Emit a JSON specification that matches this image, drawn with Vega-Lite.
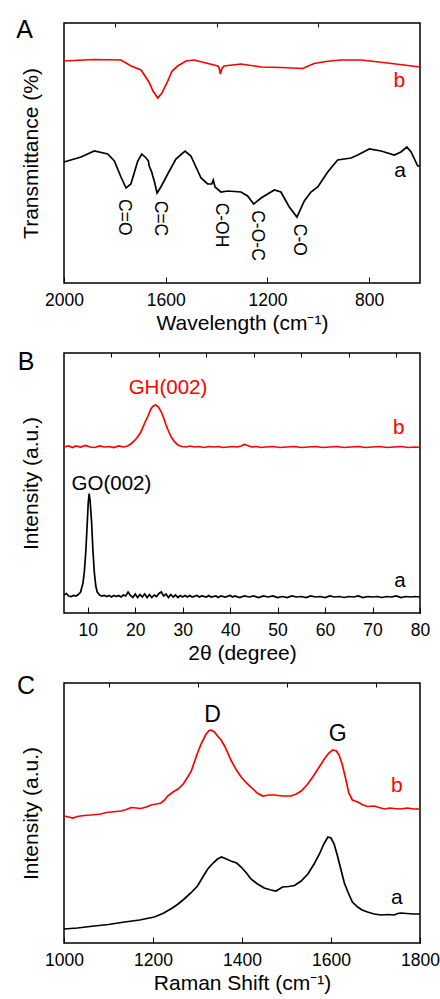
{
"$schema": "https://vega.github.io/schema/vega-lite/v6.json",
"padding": {"left": 15, "top": 16, "right": 0, "bottom": 0},
"bounds": "flush",
"spacing": 70,
"datasets": {
"ftir": [
{"x":2000,"y":121,"s":"a"},{"x":1933,"y":126,"s":"a"},{"x":1881,"y":132,"s":"a"},{"x":1828,"y":129,"s":"a"},{"x":1802,"y":122,"s":"a"},{"x":1776,"y":106,"s":"a"},{"x":1756,"y":95,"s":"a"},{"x":1737,"y":99,"s":"a"},{"x":1710,"y":122,"s":"a"},{"x":1694,"y":129,"s":"a"},{"x":1677,"y":125,"s":"a"},{"x":1668,"y":122,"s":"a"},{"x":1665,"y":117,"s":"a"},{"x":1655,"y":111,"s":"a"},{"x":1651,"y":107,"s":"a"},{"x":1645,"y":102,"s":"a"},{"x":1634,"y":90,"s":"a"},{"x":1619,"y":96,"s":"a"},{"x":1592,"y":109,"s":"a"},{"x":1560,"y":124,"s":"a"},{"x":1524,"y":132,"s":"a"},{"x":1501,"y":127,"s":"a"},{"x":1461,"y":105,"s":"a"},{"x":1435,"y":99,"s":"a"},{"x":1419,"y":99,"s":"a"},{"x":1413,"y":103,"s":"a"},{"x":1406,"y":96,"s":"a"},{"x":1383,"y":91,"s":"a"},{"x":1356,"y":92,"s":"a"},{"x":1304,"y":91,"s":"a"},{"x":1278,"y":87,"s":"a"},{"x":1254,"y":79,"s":"a"},{"x":1225,"y":85,"s":"a"},{"x":1173,"y":93,"s":"a"},{"x":1147,"y":91,"s":"a"},{"x":1114,"y":76,"s":"a"},{"x":1084,"y":66,"s":"a"},{"x":1055,"y":82,"s":"a"},{"x":1029,"y":91,"s":"a"},{"x":1002,"y":96,"s":"a"},{"x":963,"y":111,"s":"a"},{"x":924,"y":123,"s":"a"},{"x":871,"y":125,"s":"a"},{"x":845,"y":128,"s":"a"},{"x":799,"y":134,"s":"a"},{"x":753,"y":132,"s":"a"},{"x":701,"y":128,"s":"a"},{"x":675,"y":131,"s":"a"},{"x":652,"y":136,"s":"a"},{"x":635,"y":131,"s":"a"},{"x":609,"y":117,"s":"a"},{"x":600,"y":117,"s":"a"},
{"x":2000,"y":222,"s":"b"},{"x":1882,"y":223.5,"s":"b"},{"x":1776,"y":223,"s":"b"},{"x":1736,"y":217,"s":"b"},{"x":1697,"y":213,"s":"b"},{"x":1666,"y":201,"s":"b"},{"x":1650,"y":192,"s":"b"},{"x":1631,"y":185,"s":"b"},{"x":1615,"y":190,"s":"b"},{"x":1592,"y":202,"s":"b"},{"x":1575,"y":212,"s":"b"},{"x":1553,"y":217,"s":"b"},{"x":1520,"y":222,"s":"b"},{"x":1488,"y":223,"s":"b"},{"x":1442,"y":220,"s":"b"},{"x":1395,"y":217,"s":"b"},{"x":1390,"y":215,"s":"b"},{"x":1385,"y":209,"s":"b"},{"x":1380,"y":214,"s":"b"},{"x":1371,"y":217,"s":"b"},{"x":1304,"y":219,"s":"b"},{"x":1225,"y":216,"s":"b"},{"x":1147,"y":215.5,"s":"b"},{"x":1061,"y":214.5,"s":"b"},{"x":1017,"y":219.5,"s":"b"},{"x":970,"y":221.5,"s":"b"},{"x":911,"y":223,"s":"b"},{"x":832,"y":223,"s":"b"},{"x":727,"y":220,"s":"b"},{"x":600,"y":216,"s":"b"}
],
"ftirSeries": [{"x":681,"y":201.8,"t":"b","s":"b"},{"x":678,"y":112.3,"t":"a","s":"a"}],
"ftirPeaks": [{"x":1765,"y":65.7,"t":"C=O"},{"x":1624,"y":64.5,"t":"C=C"},{"x":1384,"y":58,"t":"C-OH"},{"x":1241,"y":47.5,"t":"C-O-C"},{"x":1077,"y":43.2,"t":"C-O"}],
"ftirPanel": [{"x":2155,"y":253.5,"t":"A"}],
"xrd": [
{"x":5,"y":18,"s":"a"},{"x":5.5,"y":19.5,"s":"a"},{"x":6,"y":17,"s":"a"},{"x":6.5,"y":16.5,"s":"a"},{"x":7,"y":17.5,"s":"a"},{"x":7.5,"y":17,"s":"a"},{"x":8,"y":18.5,"s":"a"},{"x":8.5,"y":21,"s":"a"},{"x":9,"y":30,"s":"a"},{"x":9.3,"y":42,"s":"a"},{"x":9.6,"y":62,"s":"a"},{"x":9.9,"y":90,"s":"a"},{"x":10.1,"y":110,"s":"a"},{"x":10.3,"y":119.5,"s":"a"},{"x":10.5,"y":112,"s":"a"},{"x":10.8,"y":92,"s":"a"},{"x":11.1,"y":62,"s":"a"},{"x":11.4,"y":40,"s":"a"},{"x":11.7,"y":27,"s":"a"},{"x":12,"y":21,"s":"a"},{"x":12.5,"y":18,"s":"a"},{"x":13,"y":17,"s":"a"},{"x":13.5,"y":17.5,"s":"a"},{"x":14,"y":16.5,"s":"a"},{"x":14.5,"y":17.5,"s":"a"},{"x":15,"y":16,"s":"a"},{"x":15.5,"y":17.5,"s":"a"},{"x":16,"y":16.5,"s":"a"},{"x":16.5,"y":17.5,"s":"a"},{"x":17,"y":16,"s":"a"},{"x":17.5,"y":18,"s":"a"},{"x":18,"y":17,"s":"a"},{"x":18.5,"y":21,"s":"a"},{"x":19,"y":17.5,"s":"a"},{"x":19.5,"y":15.5,"s":"a"},{"x":20,"y":19,"s":"a"},{"x":20.5,"y":15.5,"s":"a"},{"x":21,"y":18.5,"s":"a"},{"x":21.5,"y":16,"s":"a"},{"x":22,"y":19,"s":"a"},{"x":22.5,"y":15.5,"s":"a"},{"x":23,"y":18.5,"s":"a"},{"x":23.5,"y":15.5,"s":"a"},{"x":24,"y":18,"s":"a"},{"x":24.5,"y":16.5,"s":"a"},{"x":25,"y":19.5,"s":"a"},{"x":25.5,"y":21,"s":"a"},{"x":26,"y":17,"s":"a"},{"x":26.5,"y":19,"s":"a"},{"x":27,"y":15.5,"s":"a"},{"x":27.5,"y":18.5,"s":"a"},{"x":28,"y":16,"s":"a"},{"x":28.5,"y":18,"s":"a"},{"x":29,"y":15.5,"s":"a"},{"x":29.5,"y":17.5,"s":"a"},{"x":30,"y":16,"s":"a"},{"x":30.5,"y":17.5,"s":"a"},{"x":31,"y":16,"s":"a"},{"x":31.5,"y":17.5,"s":"a"},{"x":32,"y":16,"s":"a"},{"x":33,"y":17.5,"s":"a"},{"x":33.5,"y":16,"s":"a"},{"x":34,"y":17,"s":"a"},{"x":35,"y":16,"s":"a"},{"x":35.5,"y":17.5,"s":"a"},{"x":36,"y":16,"s":"a"},{"x":37,"y":17,"s":"a"},{"x":37.5,"y":15.5,"s":"a"},{"x":38,"y":17,"s":"a"},{"x":39,"y":16,"s":"a"},{"x":40,"y":17.5,"s":"a"},{"x":40.5,"y":16,"s":"a"},{"x":41,"y":17,"s":"a"},{"x":42,"y":15.5,"s":"a"},{"x":43,"y":17,"s":"a"},{"x":44,"y":16,"s":"a"},{"x":45,"y":17,"s":"a"},{"x":46,"y":15.5,"s":"a"},{"x":47,"y":17,"s":"a"},{"x":48,"y":16,"s":"a"},{"x":49,"y":17,"s":"a"},{"x":50,"y":15.5,"s":"a"},{"x":51,"y":16.5,"s":"a"},{"x":52,"y":15.5,"s":"a"},{"x":53,"y":17,"s":"a"},{"x":54,"y":16,"s":"a"},{"x":55,"y":16.5,"s":"a"},{"x":56,"y":15.5,"s":"a"},{"x":57,"y":17,"s":"a"},{"x":58,"y":16,"s":"a"},{"x":59,"y":16.5,"s":"a"},{"x":60,"y":15.5,"s":"a"},{"x":61,"y":17,"s":"a"},{"x":62,"y":16,"s":"a"},{"x":63,"y":16.5,"s":"a"},{"x":64,"y":15.5,"s":"a"},{"x":65,"y":16.5,"s":"a"},{"x":66,"y":16,"s":"a"},{"x":67,"y":17,"s":"a"},{"x":68,"y":15.5,"s":"a"},{"x":69,"y":16.5,"s":"a"},{"x":70,"y":16,"s":"a"},{"x":71,"y":16.5,"s":"a"},{"x":72,"y":15.5,"s":"a"},{"x":73,"y":16.5,"s":"a"},{"x":74,"y":16,"s":"a"},{"x":75,"y":17,"s":"a"},{"x":76,"y":15.5,"s":"a"},{"x":77,"y":16.5,"s":"a"},{"x":78,"y":16,"s":"a"},{"x":79,"y":16.5,"s":"a"},{"x":80,"y":16,"s":"a"},
{"x":5,"y":166,"s":"b"},{"x":6,"y":167,"s":"b"},{"x":6.8,"y":165.5,"s":"b"},{"x":7.5,"y":167,"s":"b"},{"x":8.5,"y":166,"s":"b"},{"x":9.5,"y":167.5,"s":"b"},{"x":10.5,"y":166,"s":"b"},{"x":11.5,"y":165.5,"s":"b"},{"x":12.5,"y":167,"s":"b"},{"x":13.5,"y":166,"s":"b"},{"x":14.5,"y":166.5,"s":"b"},{"x":15.5,"y":165.5,"s":"b"},{"x":16.5,"y":167,"s":"b"},{"x":17.5,"y":166,"s":"b"},{"x":18.4,"y":167,"s":"b"},{"x":19.2,"y":169.5,"s":"b"},{"x":19.8,"y":172,"s":"b"},{"x":20.5,"y":176,"s":"b"},{"x":21.2,"y":181,"s":"b"},{"x":22,"y":190,"s":"b"},{"x":22.7,"y":197,"s":"b"},{"x":23.3,"y":204,"s":"b"},{"x":23.8,"y":207,"s":"b"},{"x":24.3,"y":208,"s":"b"},{"x":24.9,"y":206,"s":"b"},{"x":25.5,"y":201,"s":"b"},{"x":26,"y":195,"s":"b"},{"x":26.5,"y":188,"s":"b"},{"x":27,"y":182,"s":"b"},{"x":27.6,"y":176,"s":"b"},{"x":28.3,"y":171,"s":"b"},{"x":29,"y":168,"s":"b"},{"x":29.8,"y":166.5,"s":"b"},{"x":30.7,"y":166,"s":"b"},{"x":31.5,"y":167,"s":"b"},{"x":32.5,"y":166,"s":"b"},{"x":33.5,"y":166.5,"s":"b"},{"x":34.5,"y":165.5,"s":"b"},{"x":35.5,"y":166.5,"s":"b"},{"x":36.5,"y":166,"s":"b"},{"x":37.5,"y":166.5,"s":"b"},{"x":38.5,"y":165.5,"s":"b"},{"x":39.5,"y":166,"s":"b"},{"x":40.5,"y":166.5,"s":"b"},{"x":41.5,"y":166,"s":"b"},{"x":42.3,"y":167,"s":"b"},{"x":43,"y":168.5,"s":"b"},{"x":43.7,"y":167.5,"s":"b"},{"x":44.5,"y":166,"s":"b"},{"x":45.5,"y":166.5,"s":"b"},{"x":46.5,"y":165.5,"s":"b"},{"x":47.5,"y":166,"s":"b"},{"x":49,"y":166.5,"s":"b"},{"x":50.5,"y":165.5,"s":"b"},{"x":52,"y":166,"s":"b"},{"x":53.5,"y":166.5,"s":"b"},{"x":55,"y":165.5,"s":"b"},{"x":56.5,"y":166,"s":"b"},{"x":58,"y":166.5,"s":"b"},{"x":59.5,"y":165.5,"s":"b"},{"x":61,"y":166,"s":"b"},{"x":62.5,"y":166.5,"s":"b"},{"x":64,"y":165.5,"s":"b"},{"x":65.5,"y":166,"s":"b"},{"x":67,"y":166.5,"s":"b"},{"x":68.5,"y":165.5,"s":"b"},{"x":70,"y":166,"s":"b"},{"x":71.5,"y":166.5,"s":"b"},{"x":73,"y":165.5,"s":"b"},{"x":74.5,"y":166,"s":"b"},{"x":76,"y":166.5,"s":"b"},{"x":77.5,"y":165.5,"s":"b"},{"x":79,"y":166,"s":"b"},{"x":80,"y":165.5,"s":"b"}
],
"xrdLabels": [{"x":75.5,"y":184.6,"t":"b","s":"b"},{"x":75.8,"y":32.3,"t":"a","s":"a"},{"x":26.9,"y":225.3,"t":"GH(002)","s":"b"},{"x":15.0,"y":128.6,"t":"GO(002)","s":"a"}],
"xrdPanel": [{"x":-3.0,"y":251,"t":"B"}],
"raman": [
{"x":1000,"y":14,"s":"a"},{"x":1030,"y":15,"s":"a"},{"x":1068,"y":17,"s":"a"},{"x":1100,"y":18.5,"s":"a"},{"x":1136,"y":21,"s":"a"},{"x":1170,"y":23,"s":"a"},{"x":1203,"y":26,"s":"a"},{"x":1222,"y":29.5,"s":"a"},{"x":1240,"y":34,"s":"a"},{"x":1255,"y":38.5,"s":"a"},{"x":1270,"y":44,"s":"a"},{"x":1285,"y":50,"s":"a"},{"x":1300,"y":57,"s":"a"},{"x":1312,"y":66,"s":"a"},{"x":1323,"y":74,"s":"a"},{"x":1335,"y":80,"s":"a"},{"x":1345,"y":84,"s":"a"},{"x":1354,"y":86,"s":"a"},{"x":1365,"y":84,"s":"a"},{"x":1375,"y":82,"s":"a"},{"x":1388,"y":80,"s":"a"},{"x":1398,"y":76,"s":"a"},{"x":1410,"y":70,"s":"a"},{"x":1420,"y":64,"s":"a"},{"x":1435,"y":59,"s":"a"},{"x":1450,"y":55,"s":"a"},{"x":1465,"y":53,"s":"a"},{"x":1476,"y":52,"s":"a"},{"x":1484,"y":54,"s":"a"},{"x":1491,"y":56,"s":"a"},{"x":1505,"y":56.5,"s":"a"},{"x":1518,"y":57.5,"s":"a"},{"x":1533,"y":62,"s":"a"},{"x":1548,"y":69,"s":"a"},{"x":1562,"y":79,"s":"a"},{"x":1574,"y":89,"s":"a"},{"x":1584,"y":99,"s":"a"},{"x":1593,"y":106,"s":"a"},{"x":1600,"y":105,"s":"a"},{"x":1607,"y":99,"s":"a"},{"x":1614,"y":88,"s":"a"},{"x":1622,"y":74,"s":"a"},{"x":1630,"y":60,"s":"a"},{"x":1638,"y":51,"s":"a"},{"x":1648,"y":41,"s":"a"},{"x":1660,"y":36,"s":"a"},{"x":1670,"y":33,"s":"a"},{"x":1682,"y":31,"s":"a"},{"x":1697,"y":29,"s":"a"},{"x":1712,"y":28,"s":"a"},{"x":1727,"y":28.5,"s":"a"},{"x":1742,"y":28,"s":"a"},{"x":1750,"y":29.5,"s":"a"},{"x":1757,"y":30,"s":"a"},{"x":1770,"y":29.5,"s":"a"},{"x":1785,"y":29,"s":"a"},{"x":1800,"y":29,"s":"a"},
{"x":1000,"y":127,"s":"b"},{"x":1010,"y":126,"s":"b"},{"x":1020,"y":125,"s":"b"},{"x":1030,"y":126.5,"s":"b"},{"x":1045,"y":127.5,"s":"b"},{"x":1060,"y":128,"s":"b"},{"x":1083,"y":129,"s":"b"},{"x":1095,"y":130.5,"s":"b"},{"x":1106,"y":131,"s":"b"},{"x":1128,"y":132,"s":"b"},{"x":1140,"y":133.5,"s":"b"},{"x":1151,"y":135.5,"s":"b"},{"x":1162,"y":135,"s":"b"},{"x":1173,"y":134.5,"s":"b"},{"x":1185,"y":136,"s":"b"},{"x":1196,"y":138,"s":"b"},{"x":1208,"y":139,"s":"b"},{"x":1218,"y":140,"s":"b"},{"x":1226,"y":143,"s":"b"},{"x":1233,"y":147,"s":"b"},{"x":1245,"y":151,"s":"b"},{"x":1256,"y":154,"s":"b"},{"x":1268,"y":159,"s":"b"},{"x":1278,"y":166,"s":"b"},{"x":1286,"y":172,"s":"b"},{"x":1293,"y":181,"s":"b"},{"x":1300,"y":190,"s":"b"},{"x":1308,"y":199,"s":"b"},{"x":1318,"y":208,"s":"b"},{"x":1325,"y":212,"s":"b"},{"x":1330,"y":213,"s":"b"},{"x":1338,"y":211,"s":"b"},{"x":1345,"y":207,"s":"b"},{"x":1353,"y":203,"s":"b"},{"x":1362,"y":196,"s":"b"},{"x":1375,"y":183,"s":"b"},{"x":1386,"y":174,"s":"b"},{"x":1398,"y":166,"s":"b"},{"x":1410,"y":160,"s":"b"},{"x":1420,"y":156,"s":"b"},{"x":1434,"y":150,"s":"b"},{"x":1447,"y":147,"s":"b"},{"x":1460,"y":148,"s":"b"},{"x":1473,"y":148,"s":"b"},{"x":1490,"y":147,"s":"b"},{"x":1510,"y":147,"s":"b"},{"x":1522,"y":149,"s":"b"},{"x":1533,"y":152,"s":"b"},{"x":1546,"y":158,"s":"b"},{"x":1559,"y":166,"s":"b"},{"x":1572,"y":175,"s":"b"},{"x":1585,"y":184,"s":"b"},{"x":1595,"y":190,"s":"b"},{"x":1604,"y":193,"s":"b"},{"x":1612,"y":192,"s":"b"},{"x":1618,"y":188,"s":"b"},{"x":1625,"y":179,"s":"b"},{"x":1632,"y":166,"s":"b"},{"x":1640,"y":150,"s":"b"},{"x":1648,"y":143,"s":"b"},{"x":1660,"y":141,"s":"b"},{"x":1672,"y":138,"s":"b"},{"x":1682,"y":136.5,"s":"b"},{"x":1697,"y":137,"s":"b"},{"x":1708,"y":135.5,"s":"b"},{"x":1720,"y":134,"s":"b"},{"x":1732,"y":135,"s":"b"},{"x":1742,"y":134.5,"s":"b"},{"x":1755,"y":134,"s":"b"},{"x":1772,"y":135,"s":"b"},{"x":1785,"y":134,"s":"b"},{"x":1800,"y":134,"s":"b"}
],
"ramanSeries": [{"x":1748,"y":157.1,"t":"b","s":"b"},{"x":1748,"y":44.8,"t":"a","s":"a"}],
"ramanPeaks": [{"x":1334,"y":227.7,"t":"D"},{"x":1615,"y":209.2,"t":"G"}],
"ramanPanel": [{"x":914.6,"y":257.5,"t":"C"}]
},
"vconcat": [
{
"width": 356, "height": 260,
"layer": [
{"data": {"name": "ftir"}, "mark": {"type": "line", "strokeWidth": 1.7},
 "encoding": {
  "x": {"field": "x", "type": "quantitative", "scale": {"domain": [600, 2000], "reverse": true, "nice": false, "zero": false}, "axis": {"values": [2000, 1600, 1200, 800], "format": "d", "tickSize": -6, "labelPadding": 14, "title": "Wavelength (cm⁻¹)", "titlePadding": 4}},
  "y": {"field": "y", "type": "quantitative", "scale": {"domain": [0, 260], "nice": false, "zero": false}, "axis": {"title": "Transmittance (%)", "labels": false, "ticks": false, "titlePadding": 23}},
  "color": {"field": "s", "type": "nominal", "scale": {"domain": ["a", "b"], "range": ["#000000", "#ff0000"]}, "legend": null}
 }},
{"data": {"name": "ftirSeries"}, "mark": {"type": "text", "fontSize": 21},
 "encoding": {
  "x": {"field": "x", "type": "quantitative", "axis": {"values": [1800, 1400, 1000], "tickSize": -4, "labels": false, "title": null}},
  "y": {"field": "y", "type": "quantitative"},
  "text": {"field": "t"},
  "color": {"field": "s", "type": "nominal", "legend": null}
 }},
{"data": {"name": "ftirPeaks"}, "mark": {"type": "text", "fontSize": 17.5, "angle": 90, "color": "#000000"},
 "encoding": {
  "x": {"field": "x", "type": "quantitative", "axis": null},
  "y": {"field": "y", "type": "quantitative"},
  "text": {"field": "t"}
 }},
{"data": {"name": "ftirPanel"}, "mark": {"type": "text", "fontSize": 25, "color": "#000000"},
 "encoding": {
  "x": {"field": "x", "type": "quantitative", "axis": null},
  "y": {"field": "y", "type": "quantitative"},
  "text": {"field": "t"}
 }}
],
"resolve": {"axis": {"x": "independent"}}
},
{
"width": 356, "height": 260,
"layer": [
{"data": {"name": "xrd"}, "mark": {"type": "line", "strokeWidth": 1.7},
 "encoding": {
  "x": {"field": "x", "type": "quantitative", "scale": {"domain": [5, 80], "nice": false, "zero": false}, "axis": {"values": [10, 20, 30, 40, 50, 60, 70, 80], "format": "d", "tickSize": -6, "labelPadding": 14, "title": "2θ (degree)", "titlePadding": 4}},
  "y": {"field": "y", "type": "quantitative", "scale": {"domain": [0, 260], "nice": false, "zero": false}, "axis": {"title": "Intensity (a.u.)", "labels": false, "ticks": false, "titlePadding": 23}},
  "color": {"field": "s", "type": "nominal", "scale": {"domain": ["a", "b"], "range": ["#000000", "#ff0000"]}, "legend": null}
 }},
{"data": {"name": "xrdLabels"}, "mark": {"type": "text", "fontSize": 20.5},
 "encoding": {
  "x": {"field": "x", "type": "quantitative", "axis": {"values": [15, 25, 35, 45, 55, 65, 75], "tickSize": -4, "labels": false, "title": null}},
  "y": {"field": "y", "type": "quantitative"},
  "text": {"field": "t"},
  "color": {"field": "s", "type": "nominal", "legend": null}
 }},
{"data": {"name": "xrdPanel"}, "mark": {"type": "text", "fontSize": 25, "color": "#000000"},
 "encoding": {
  "x": {"field": "x", "type": "quantitative", "axis": null},
  "y": {"field": "y", "type": "quantitative"},
  "text": {"field": "t"}
 }}
],
"resolve": {"axis": {"x": "independent"}}
},
{
"width": 356, "height": 260,
"layer": [
{"data": {"name": "raman"}, "mark": {"type": "line", "strokeWidth": 1.7},
 "encoding": {
  "x": {"field": "x", "type": "quantitative", "scale": {"domain": [1000, 1800], "nice": false, "zero": false}, "axis": {"values": [1000, 1200, 1400, 1600, 1800], "format": "d", "tickSize": -6, "labelPadding": 14, "title": "Raman Shift (cm⁻¹)", "titlePadding": 4}},
  "y": {"field": "y", "type": "quantitative", "scale": {"domain": [0, 260], "nice": false, "zero": false}, "axis": {"title": "Intensity (a.u.)", "labels": false, "ticks": false, "titlePadding": 23}},
  "color": {"field": "s", "type": "nominal", "scale": {"domain": ["a", "b"], "range": ["#000000", "#ff0000"]}, "legend": null}
 }},
{"data": {"name": "ramanSeries"}, "mark": {"type": "text", "fontSize": 21},
 "encoding": {
  "x": {"field": "x", "type": "quantitative", "axis": {"values": [1100, 1300, 1500, 1700], "tickSize": -4, "labels": false, "title": null}},
  "y": {"field": "y", "type": "quantitative"},
  "text": {"field": "t"},
  "color": {"field": "s", "type": "nominal", "legend": null}
 }},
{"data": {"name": "ramanPeaks"}, "mark": {"type": "text", "fontSize": 23, "color": "#000000"},
 "encoding": {
  "x": {"field": "x", "type": "quantitative", "axis": null},
  "y": {"field": "y", "type": "quantitative"},
  "text": {"field": "t"}
 }},
{"data": {"name": "ramanPanel"}, "mark": {"type": "text", "fontSize": 25, "color": "#000000"},
 "encoding": {
  "x": {"field": "x", "type": "quantitative", "axis": null},
  "y": {"field": "y", "type": "quantitative"},
  "text": {"field": "t"}
 }}
],
"resolve": {"axis": {"x": "independent"}}
}
],
"config": {
 "font": "Liberation Sans",
 "view": {"stroke": "#000000", "strokeWidth": 1.5},
 "axis": {"grid": false, "domain": false, "labelFont": "Liberation Sans", "titleFont": "Liberation Sans", "labelFontSize": 17.5, "titleFontSize": 21, "titleFontWeight": "normal", "labelColor": "#000000", "titleColor": "#000000", "tickColor": "#000000", "tickWidth": 1, "labelFlush": false, "labelOverlap": false, "labelBound": false},
 "text": {"font": "Liberation Sans"}
}
}
